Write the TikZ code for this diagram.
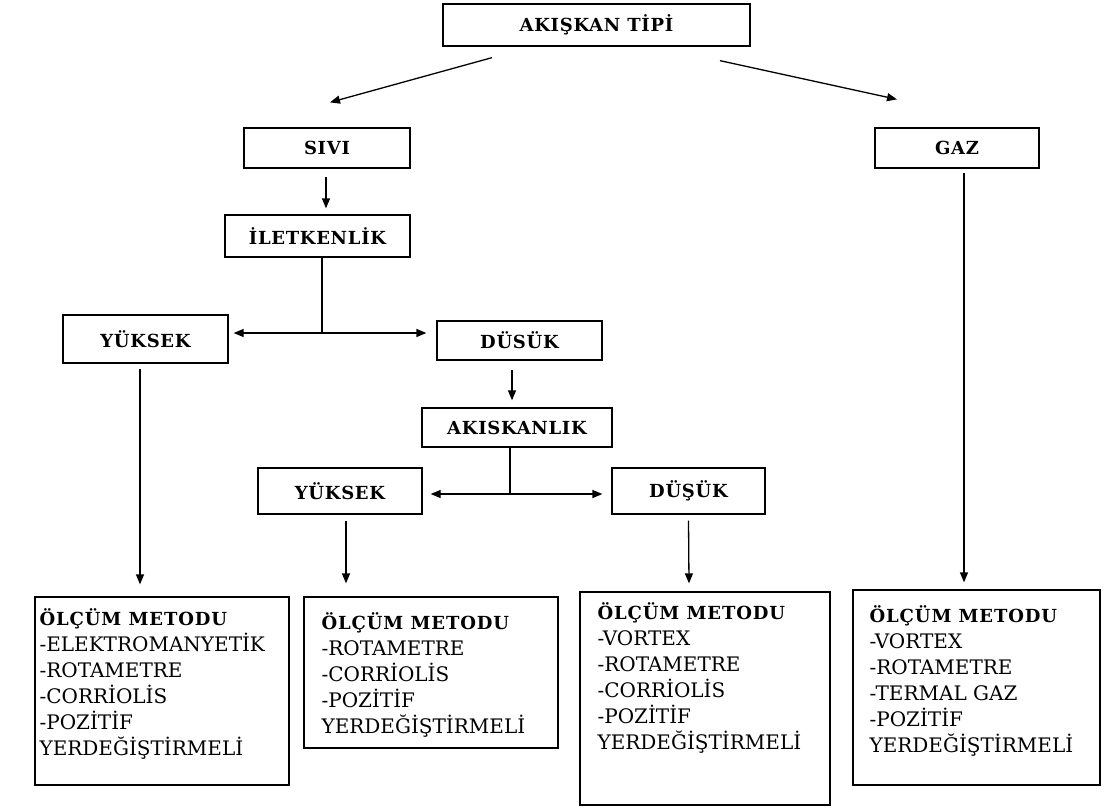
\documentclass[tikz,border=0pt]{standalone}
\usepackage{fontspec}
\setmainfont{DejaVu Serif}
\usetikzlibrary{arrows.meta}
\tikzset{
  box/.style={draw, line width=1.3pt, inner sep=0pt, font=\fontsize{18}{20}\selectfont\bfseries\addfontfeatures{LetterSpace=4}},
  mbox/.style={draw, line width=1.3pt, inner sep=0pt},
  mtext/.style={anchor=north west, inner sep=0pt, align=left, font=\fontsize{20}{26}\selectfont},
  arr/.style={line width=1.3pt, -{Triangle[length=10pt,width=8pt]}},
  ln/.style={line width=1.3pt}
}
\newcommand{\ttl}{{\fontsize{18}{26}\selectfont\bfseries\addfontfeatures{LetterSpace=5}ÖLÇÜM METODU}}
\begin{document}
\begin{tikzpicture}[x=1pt,y=-1pt]
\useasboundingbox[fill=white] (0,0) rectangle (1105,807);
% top-level boxes
\node[box, minimum width=307pt, minimum height=42pt] (top) at (596.5,25) {AKIŞKAN TİPİ};
\node[box, minimum width=166pt, minimum height=40pt] (sivi) at (327,148) {SIVI};
\node[box, minimum width=164pt, minimum height=40pt] (gaz) at (957,148) {GAZ};
\node[box, minimum width=185pt, minimum height=42pt] (ilet) at (317.5,236) {İLETKENLİK};
\node[box, minimum width=165pt, minimum height=48pt] (yuk1) at (145.5,339) {YÜKSEK};
\node[box, minimum width=165pt, minimum height=39pt] (dus1) at (519.5,340.5) {DÜSÜK};
\node[box, minimum width=190pt, minimum height=39pt] (akis) at (517,427.5) {AKISKANLIK};
\node[box, minimum width=164pt, minimum height=46pt] (yuk2) at (340,491) {YÜKSEK};
\node[box, minimum width=153pt, minimum height=46pt] (dus2) at (688.5,491) {DÜŞÜK};
% method boxes
\node[mbox, minimum width=254pt, minimum height=188pt] (m1) at (162,691) {};
\node[mbox, minimum width=254pt, minimum height=151pt] (m2) at (431,672.5) {};
\node[mbox, minimum width=250pt, minimum height=213pt] (m3) at (705,698.5) {};
\node[mbox, minimum width=247pt, minimum height=195pt] (m4) at (976.5,687.5) {};
\node[mtext] (t1) at ([xshift=5pt,yshift=-12pt]m1.north west) {\ttl\\-ELEKTROMANYETİK\\-ROTAMETRE\\-CORRİOLİS\\-POZİTİF\\YERDEĞİŞTİRMELİ};
\node[mtext] (t2) at ([xshift=18pt,yshift=-16pt]m2.north west) {\ttl\\-ROTAMETRE\\-CORRİOLİS\\-POZİTİF\\YERDEĞİŞTİRMELİ};
\node[mtext] (t3) at ([xshift=18pt,yshift=-11pt]m3.north west) {\ttl\\-VORTEX\\-ROTAMETRE\\-CORRİOLİS\\-POZİTİF\\YERDEĞİŞTİRMELİ};
\node[mtext] (t4) at ([xshift=17pt,yshift=-16pt]m4.north west) {\ttl\\-VORTEX\\-ROTAMETRE\\-TERMAL GAZ\\-POZİTİF\\YERDEĞİŞTİRMELİ};
% connectors
\draw[arr] ([xshift=-104.5pt,yshift=-11pt]top.south) -- ([xshift=3pt,yshift=25pt]sivi.north);
\draw[arr] ([xshift=123.5pt,yshift=-14pt]top.south) -- ([xshift=-60pt,yshift=28pt]gaz.north);
\draw[arr] ([xshift=-1pt,yshift=-8pt]sivi.south) -- ([xshift=8.5pt,yshift=6pt]ilet.north);
\coordinate (j1) at (322,333);
\draw[ln] ([xshift=4.5pt]ilet.south) -- (j1);
\draw[arr] (j1) -- ([xshift=5pt]yuk1.east |- j1);
\draw[arr] (j1) -- ([xshift=-10pt]dus1.west |- j1);
\draw[arr] ([xshift=-5.5pt,yshift=-5pt]yuk1.south) -- ([xshift=-22pt,yshift=12pt]m1.north);
\draw[arr] ([xshift=-7.5pt,yshift=-9pt]dus1.south) -- ([xshift=-5pt,yshift=7pt]akis.north);
\coordinate (j2) at (510,494);
\draw[ln] ([xshift=-7pt]akis.south) -- (j2);
\draw[arr] (j2) -- ([xshift=8pt]yuk2.east |- j2);
\draw[arr] (j2) -- ([xshift=-9pt]dus2.west |- j2);
\draw[arr] ([xshift=6pt,yshift=-6pt]yuk2.south) -- ([xshift=-85pt,yshift=13pt]m2.north);
\draw[arr] ([yshift=-6pt]dus2.south) -- ([xshift=-16pt,yshift=8pt]m3.north);
\draw[arr] ([xshift=7pt,yshift=-4pt]gaz.south) -- ([xshift=-12.5pt,yshift=7pt]m4.north);
\end{tikzpicture}
\end{document}
